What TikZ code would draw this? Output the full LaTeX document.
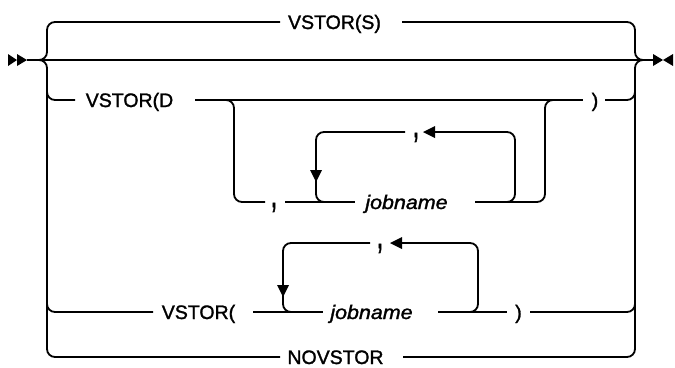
\documentclass[tikz,border=0pt]{standalone}
\usepackage{fontspec}
\setmainfont{Liberation Sans}
\newfontfamily\railfont{Liberation Sans}[FakeBold=1.4]
\usepackage{graphicx}
\begin{document}
\begin{tikzpicture}[x=1pt,y=-1pt,
  rail/.style={line width=1.8pt, rounded corners=8pt},
  tok/.style={inner sep=0pt, text height=14pt, text depth=0pt,
              font=\railfont\fontsize{19.5}{22}\selectfont},
  var/.style={tok, font=\railfont\fontsize{19.5}{22}\selectfont\itshape},
  sep/.style={inner sep=0pt, anchor=base,
              font=\railfont\fontsize{19.5}{22}\selectfont},
  tip/.style={fill=black}]
\useasboundingbox (0,0) rectangle (675,367);

% main line with start and end marks
\draw[line width=1.8pt] (27,60) -- (653,60);
\fill[tip] (8,54) -- (17,60) -- (8,66) -- cycle;
\fill[tip] (17,54) -- (27,60) -- (17,66) -- cycle;
\fill[tip] (653,54) -- (663,60) -- (653,66) -- cycle;
\fill[tip] (673,54) -- (663,60) -- (673,66) -- cycle;

% default branch above the main line
\draw[rail] (39,60) -| (47,22) -- (280,22);
\draw[rail] (402,22) -| (635,60) -- (643,60);
\node[tok] (vss) at (334.5,22) {VSTOR(S)};

% outer branch down to NOVSTOR
\draw[rail] (39,60) -| (47,357) -- (280,357);
\draw[rail] (403,357) -| (635,60) -- (643,60);
\node[tok] (novs) at (335.5,357) {NOVSTOR};

% VSTOR(D branch
\draw[rail] (47,80) |- (75,100);
\draw[rail] (195,100) -- (583,100);
\draw[rail] (605,100) -| (635,80);
\node[tok] (vsd) at (129.5,100) {VSTOR(D};
\node[tok] (rpd) at (595,100) {)};

% optional list of job names after D
\draw[rail] (220,100) -| (234,202) -- (265,202);
\draw[rail] (285,202) -- (355,202);
\draw[rail] (475,202) -| (545,100) -- (555,100);
\node[sep] (cma) at (274,207) {\scalebox{1.3}[2.0]{,}};
\node[var] (jna) at (406.5,202) {\scalebox{1.1}[1]{jobname}};

% repeat loop for the job names after D
\draw[rail] (500,202) -| (515,132) -- (435,132);
\draw[rail] (405,132) -| (316,202) -- (330,202);
\fill[tip] (435,126) -- (423,132) -- (435,138) -- cycle;
\fill[tip] (310,170) -- (316,182) -- (322,170) -- cycle;
\node[sep] (cmb) at (416,137) {\scalebox{1.3}[2.0]{,}};

% VSTOR( jobname ) branch
\draw[rail] (47,290) |- (153,312);
\draw[rail] (253,312) -- (323,312);
\draw[rail] (438,312) -- (507,312);
\draw[rail] (530,312) -| (635,290);
\node[tok] (vsp) at (198.5,312) {VSTOR(};
\node[var] (jnb) at (371.5,312) {\scalebox{1.1}[1]{jobname}};
\node[tok] (rpb) at (518.5,312) {)};

% repeat loop for the job names in VSTOR(
\draw[rail] (460,312) -| (478,243) -- (402,243);
\draw[rail] (370,243) -| (283,312) -- (295,312);
\fill[tip] (402,237) -- (390,243) -- (402,249) -- cycle;
\fill[tip] (277,285) -- (283,297) -- (289,285) -- cycle;
\node[sep] (cmc) at (380,248) {\scalebox{1.3}[2.0]{,}};
\end{tikzpicture}
\end{document}
